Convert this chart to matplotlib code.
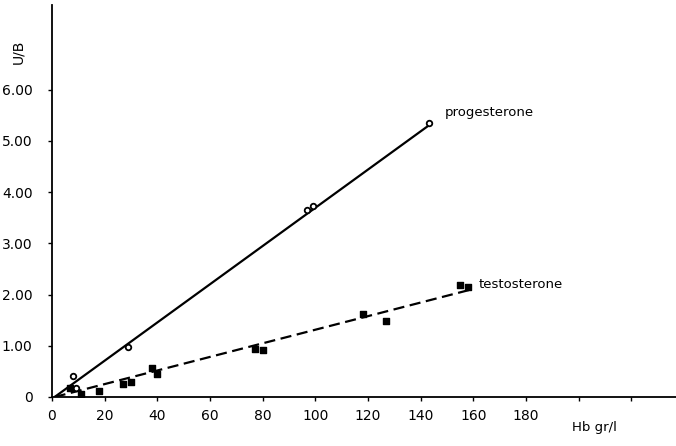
import matplotlib.pyplot as plt

# Hb concentration (gr/l) vs U/B for each steroid
prog_hb = [8, 9, 29, 97, 99, 143]
prog_ub = [0.41, 0.18, 0.97, 3.65, 3.73, 5.35]

test_hb = [7, 11, 18, 27, 30, 38, 40, 77, 80, 118, 127, 155, 158]
test_ub = [0.18, 0.06, 0.12, 0.25, 0.30, 0.57, 0.45, 0.93, 0.92, 1.62, 1.48, 2.19, 2.15]

# fitted regression lines (end points)
prog_fit_x = [1, 143]
prog_fit_y = [0.0, 5.30]
test_fit_x = [1, 160]
test_fit_y = [0.0, 2.11]

xticks = [0, 20, 40, 60, 80, 100, 120, 140, 160, 180, 200, 220]
xlabels = ['0', '20', '40', '60', '80', '100', '120', '140', '160', '180', '', '']
yticks = [0, 1, 2, 3, 4, 5, 6]
ylabels = ['0', '1.00', '2.00', '3.00', '4.00', '5.00', '6.00']


def main():
    fig = plt.figure(figsize=(6.76, 4.46), dpi=100)
    ax = fig.add_axes([52 / 676, 49 / 446, 1 - 52 / 676, (397 - 5) / 446])
    ax.set_xlim(0, 237)
    ax.set_ylim(0, 392 / 51.2)

    ax.plot(prog_fit_x, prog_fit_y, color='black', lw=1.6)
    ax.plot(test_fit_x, test_fit_y, color='black', lw=1.6, dashes=(5, 2.5))

    ax.scatter(prog_hb, prog_ub, s=16, marker='o', facecolor='white',
               edgecolor='black', linewidth=1.3, zorder=3)
    ax.scatter(test_hb, test_ub, s=16, marker='s', facecolor='black',
               edgecolor='black', linewidth=1.0, zorder=3)

    ax.text(149, 5.55, 'progesterone', fontsize=9.5, va='center')
    ax.text(162, 2.19, 'testosterone', fontsize=9.5, va='center')

    ax.spines['top'].set_visible(False)
    ax.spines['right'].set_visible(False)
    ax.spines['left'].set_linewidth(1.3)
    ax.spines['bottom'].set_linewidth(1.3)
    ax.set_xticks(xticks)
    ax.set_xticklabels(xlabels, fontsize=10)
    ax.set_yticks(yticks)
    ax.set_yticklabels(ylabels, fontsize=10)
    ax.tick_params(direction='out', length=3, width=1.0)
    ax.tick_params(axis='x', pad=6)
    ax.tick_params(axis='y', pad=11)

    fig.text(18 / 676, 1 - 52 / 446, 'U/B', rotation=90, fontsize=10,
             ha='center', va='center')
    fig.text(594 / 676, 1 - 428 / 446, 'Hb gr/l', fontsize=9.5,
             ha='center', va='center')

    fig.savefig('out.png', dpi=100, facecolor='white')


if __name__ == '__main__':
    main()
